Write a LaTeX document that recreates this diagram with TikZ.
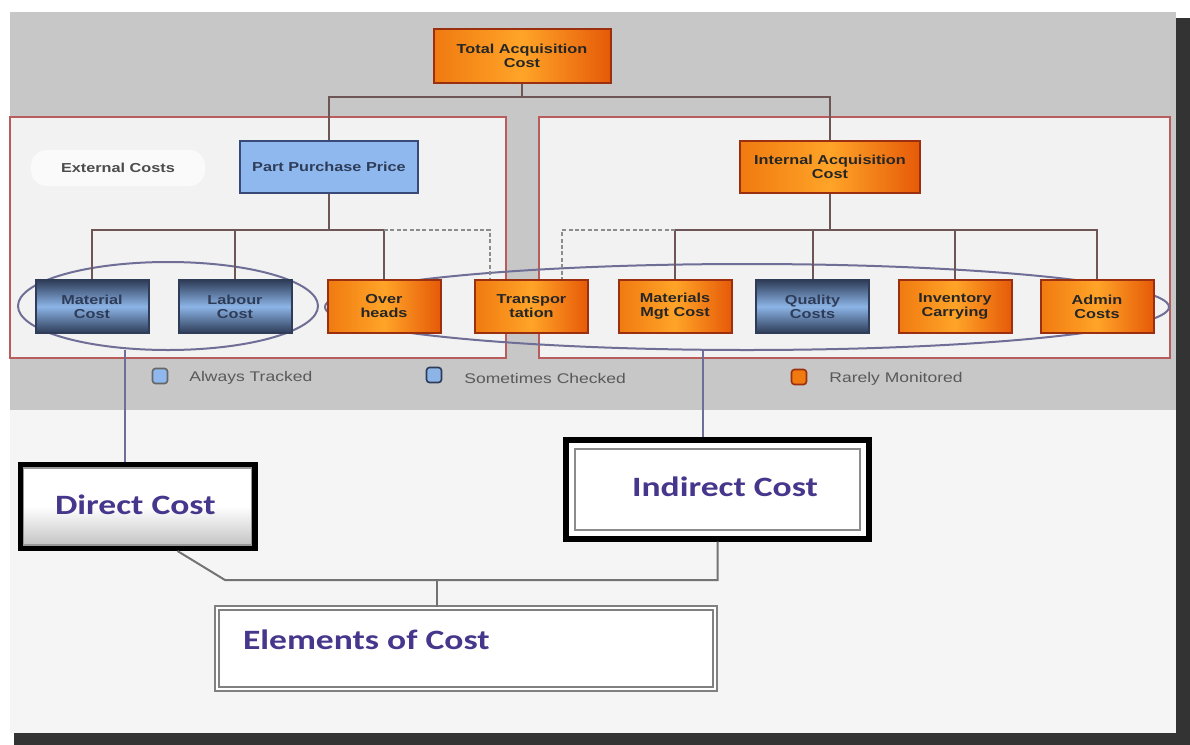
\documentclass[tikz,border=0pt]{standalone}
\usepackage{fontspec}
\setmainfont{Liberation Sans}[FakeStretch=1.25]
\newfontfamily\carl{Carlito}[FakeStretch=1.27]
\definecolor{ltblue}{HTML}{8FB9EE}
\definecolor{ltblueb}{HTML}{3A4A78}
\definecolor{dkblue}{HTML}{2E3C58}
\definecolor{midblue}{HTML}{8CB4E6}
\definecolor{orL}{HTML}{F07A10}
\definecolor{orM}{HTML}{FFA428}
\definecolor{orR}{HTML}{E65A08}
\definecolor{orB}{HTML}{9A3010}
\definecolor{panelred}{HTML}{B85C5C}
\definecolor{connc}{HTML}{6E5656}
\definecolor{ellc}{HTML}{6E6E96}
\definecolor{indigo}{HTML}{47378C}
\begin{document}
\begin{tikzpicture}[x=0.5pt,y=-0.5pt,
  box/.style={draw, line width=1pt, minimum width=56.5pt, minimum height=26.5pt, align=center,
    font=\fontsize{6.5}{7}\selectfont\bfseries, inner sep=1pt},
  obox/.style={box, draw=orB, left color=orL, right color=orR, middle color=orM, text=black!85},
  dbox/.style={box, draw=dkblue, top color=dkblue, bottom color=dkblue, middle color=midblue, text=dkblue},
  lbox/.style={box, draw=ltblueb, fill=ltblue, text=dkblue},
  conn/.style={draw=connc, line width=1pt},
  dconn/.style={draw=black!45, line width=1pt, dash pattern=on 2pt off 1.2pt},
  panel/.style={draw=panelred, line width=1.2pt, fill=black!5},
  ell/.style={draw=ellc, line width=1pt},
  legsq/.style={draw=black!60, line width=0.8pt, rounded corners=1.5pt, minimum width=7.5pt, minimum height=7.5pt, inner sep=0pt},
  legtx/.style={anchor=west, font=\fontsize{7}{8}\selectfont, text=black!65, inner sep=0pt},
  big/.style={font=\carl\bfseries\fontsize{14}{16}\selectfont, text=indigo},
  vconn/.style={draw=ellc, line width=1pt},
  bconn/.style={draw=black!55, line width=1pt}]
\useasboundingbox (0,0) rectangle (1190,745);
\fill[white] (0,0) rectangle (1190,745);
% gray band
\fill[black!22] (10,12) rectangle (1176,410);
\fill[black!4] (10,410) rectangle (1176,733);
% shadows
\fill[black!80] (1176,18) rectangle (1190,745);
\fill[black!80] (14,733) rectangle (1190,745);
% panels
\draw[panel] (10,117) rectangle (506,358);
\draw[panel] (539,117) rectangle (1170,358);
% ellipses (behind the boxes)
\draw[ell] (168,306) ellipse [x radius=150, y radius=44];
\draw[ell] (747,307) ellipse [x radius=422, y radius=43];
\coordinate (le) at (125,350);
\coordinate (re) at (703,350);
% external costs label
\node[fill=black!2, rounded corners=8pt, minimum width=87pt, minimum height=18pt, font=\fontsize{6.5}{8}\selectfont\bfseries, text=black!70] (ext) at (118,168) {External Costs};
% nodes
\node[obox, minimum width=88.5pt, minimum height=27pt] (tac) at (522,56) {Total Acquisition\\Cost};
\node[lbox, minimum width=89pt, minimum height=26pt] (ppp) at (329,166.5) {Part Purchase Price};
\node[obox, minimum width=90pt, minimum height=26pt] (iac) at (830,166.5) {Internal Acquisition\\Cost};
\node[dbox] (mat) at (92,306.5) {Material\\Cost};
\node[dbox] (lab) at (235,306.5) {Labour\\Cost};
\node[obox] (ovh) at (384,306.5) {Over\\heads};
\node[obox] (trn) at (531.5,306.5) {Transpor\\tation};
\node[obox] (mmc) at (675,306.5) {Materials\\Mgt Cost};
\node[dbox] (qc) at (812.5,306.5) {Quality\\Costs};
\node[obox] (inv) at (955,306.5) {Inventory\\Carrying};
\node[obox] (adm) at (1097,306.5) {Admin\\Costs};
% top connectors
\coordinate (tbus) at (522,97);
\coordinate (lbus) at (329,230);
\coordinate (rbus) at (830,230);
\draw[conn] (tac.south) -- (tbus);
\draw[conn] (ppp.north) |- (tbus) -| (iac.north);
\draw[conn] (ppp.south) -- (lbus);
\draw[conn] (mat.north) |- (ovh.north |- lbus) -- (ovh.north);
\draw[conn] (lab.north) -- (lab.north |- lbus);
\draw[dconn] (ovh.north |- lbus) -| ([xshift=-20.75pt]trn.north);
\draw[conn] (iac.south) -- (rbus);
\draw[conn] (mmc.north) |- (adm.north |- rbus) -- (adm.north);
\draw[conn] (qc.north) -- (qc.north |- rbus);
\draw[conn] (inv.north) -- (inv.north |- rbus);
\draw[dconn] (mmc.north |- rbus) -| ([xshift=15.25pt]trn.north);
% legend
\node[legsq, fill=ltblue] (l1) at (160,376) {};
\node[legtx] (t1) at (189,378) {Always Tracked};
\node[legsq, fill=midblue, draw=dkblue] (l2) at (434,375) {};
\node[legtx] (t2) at (464,378) {Sometimes Checked};
\node[legsq, fill=orL, draw=orB] (l3) at (799,377) {};
\node[legtx] (t3) at (829,379) {Rarely Monitored};
% bottom boxes
\node[draw=black, line width=3pt, minimum width=117pt, minimum height=41.5pt, inner sep=0pt, top color=white, bottom color=black!25, middle color=white] (dc) at (137.5,506.5) {};
\draw[black!40, line width=0.8pt] ([shift={(6,6)}]dc.north west) rectangle ([shift={(-6,-6)}]dc.south east);
\node[big, anchor=west] (dct) at (48,505) {Direct Cost};
\node[draw=black, line width=3pt, minimum width=151.5pt, minimum height=49.5pt, inner sep=0pt, fill=white] (ic) at (717.5,489) {};
\draw[black!45, line width=1pt] ([shift={(12,12)}]ic.north west) rectangle ([shift={(-12,-12)}]ic.south east);
\node[big] (ict) at (725,487) {Indirect Cost};
\node[draw=black!50, line width=1pt, double=white, double distance=1pt, minimum width=249pt, minimum height=40.5pt, inner sep=0pt, fill=white] (ec) at (465.5,648.5) {};
\node[big, anchor=west] (ect) at (236,640) {Elements of Cost};
% bottom connectors
\draw[vconn] (le) -- (le |- dc.north);
\draw[vconn] (re) -- (re |- ic.north);
\coordinate (bj) at (225,580);
\coordinate (bm) at (437,580);
\draw[bconn] ([xshift=20pt]dc.south) -- (bj) -- (bj -| ic.south) -- (ic.south);
\draw[bconn] (bm) -- (bm |- ec.north);
\end{tikzpicture}
\end{document}
